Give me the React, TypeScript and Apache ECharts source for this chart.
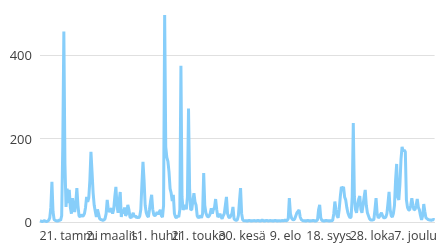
import React, { useEffect, useRef } from "react";
import * as echarts from "echarts";

const YEAR = 2023;
const MONTHS = ["tammi", "helmi", "maalis", "huhti", "touko", "kesä", "heinä", "elo", "syys", "loka", "marras", "joulu"];
const Y_TICKS = [0, 200, 400];
const LABEL_FIRST = 20;
const LABEL_STEP = 40;

// daily values, Jan 1 .. Dec 31
const V000 = [3, 2, 1, 2, 3, 2, 1, 2, 4, 10];
const V010 = [35, 96, 25, 6, 4, 3, 2, 3, 5, 4];
const V020 = [15, 180, 456, 140, 36, 80, 45, 77, 35, 20];
const V030 = [57, 35, 24, 45, 81, 40, 15, 12, 18, 14];
const V040 = [15, 20, 35, 60, 48, 58, 100, 168, 120, 70];
const V050 = [40, 25, 12, 30, 20, 8, 6, 5, 4, 5];
const V060 = [8, 20, 53, 30, 24, 29, 33, 20, 30, 60];
const V070 = [84, 40, 22, 50, 72, 12, 30, 20, 35, 15];
const V080 = [20, 41, 30, 12, 10, 15, 22, 12, 15, 10];
const V090 = [12, 10, 14, 30, 90, 144, 100, 40, 22, 15];
const V100 = [12, 30, 50, 65, 30, 17, 15, 18, 24, 18];
const V110 = [24, 29, 15, 12, 40, 496, 180, 155, 145, 120];
const V120 = [80, 69, 50, 65, 20, 12, 10, 15, 12, 30];
const V130 = [374, 60, 29, 35, 41, 30, 60, 272, 80, 29];
const V140 = [30, 50, 69, 48, 40, 15, 10, 12, 15, 10];
const V150 = [20, 117, 40, 22, 15, 12, 14, 20, 33, 20];
const V160 = [30, 35, 55, 30, 12, 15, 20, 12, 8, 15];
const V170 = [20, 40, 60, 20, 12, 10, 15, 20, 36, 8];
const V180 = [5, 4, 5, 15, 50, 81, 20, 5, 3, 3];
const V190 = [3, 2, 3, 4, 3, 2, 3, 3, 4, 2];
const V200 = [3, 4, 3, 2, 3, 5, 3, 2, 3, 4];
const V210 = [3, 2, 4, 3, 3, 2, 3, 4, 3, 2];
const V220 = [3, 3, 2, 4, 3, 3, 5, 3, 4, 8];
const V230 = [57, 20, 10, 6, 5, 8, 15, 22, 25, 29];
const V240 = [12, 6, 4, 3, 3, 2, 3, 4, 3, 2];
const V250 = [3, 3, 4, 3, 2, 3, 5, 30, 41, 10];
const V260 = [4, 3, 2, 3, 4, 3, 3, 2, 3, 3];
const V270 = [4, 20, 49, 30, 15, 10, 30, 60, 84, 80];
const V280 = [84, 60, 53, 35, 22, 15, 10, 12, 60, 237];
const V290 = [60, 30, 22, 40, 55, 62, 30, 22, 40, 60];
const V300 = [77, 40, 22, 15, 8, 5, 5, 5, 6, 30];
const V310 = [57, 20, 10, 12, 18, 22, 15, 10, 10, 12];
const V320 = [20, 45, 72, 30, 15, 12, 20, 40, 100, 139];
const V330 = [60, 53, 90, 150, 180, 170, 172, 168, 53, 35];
const V340 = [29, 29, 40, 57, 40, 29, 30, 40, 55, 35];
const V350 = [29, 15, 5, 15, 43, 25, 10, 8, 6, 5];
const V360 = [5, 4, 5, 6, 5];

const VALUES = [
  ...V000, ...V010, ...V020, ...V030, ...V040, ...V050, ...V060, ...V070, ...V080, ...V090,
  ...V100, ...V110, ...V120, ...V130, ...V140, ...V150, ...V160, ...V170, ...V180, ...V190,
  ...V200, ...V210, ...V220, ...V230, ...V240, ...V250, ...V260, ...V270, ...V280, ...V290,
  ...V300, ...V310, ...V320, ...V330, ...V340, ...V350, ...V360,
];

const CATEGORIES: string[] = VALUES.map((_, i) => {
  const d = new Date(Date.UTC(YEAR, 0, 1 + i));
  return `${d.getUTCDate()}. ${MONTHS[d.getUTCMonth()]}`;
});

const labelStyle = {
  color: "#404040",
  fontSize: 12.5,
  fontFamily: "Open Sans",
  margin: 7,
  padding: [0, 0, 0, 14],
  showMinLabel: true,
  showMaxLabel: true,
  hideOverlap: false,
};

function xAxisFor(parity: number, visibleLine: boolean) {
  return {
    type: "category",
    data: CATEGORIES,
    boundaryGap: false,
    position: "bottom",
    axisLine: { show: visibleLine, lineStyle: { color: "#e0e0e0" } },
    axisTick: { show: false },
    splitLine: { show: false },
    axisLabel: {
      ...labelStyle,
      interval: (i: number) =>
        i >= LABEL_FIRST &&
        (i - LABEL_FIRST) % LABEL_STEP === 0 &&
        ((i - LABEL_FIRST) / LABEL_STEP) % 2 === parity,
    },
  };
}

export default function App() {
  const ref = useRef<HTMLDivElement>(null);
  useEffect(() => {
    if (!ref.current) return;
    const chart = echarts.init(ref.current, undefined, { renderer: "svg" });
    chart.setOption({
      animation: false,
      grid: { left: 40, right: 0, top: 11.5, bottom: 27 },
      xAxis: [xAxisFor(0, true), xAxisFor(1, false)],
      yAxis: {
        type: "value",
        min: Y_TICKS[0],
        max: 600,
        interval: Y_TICKS[1] - Y_TICKS[0],
        axisLine: { show: false },
        axisTick: { show: false },
        splitLine: { lineStyle: { color: "#e0e0e0" } },
        axisLabel: {
          color: "#404040",
          fontSize: 13,
          fontFamily: "Open Sans",
          margin: 8,
          showMaxLabel: false,
        },
      },
      series: [
        {
          type: "line",
          data: VALUES,
          xAxisIndex: 0,
          showSymbol: false,
          symbol: "none",
          lineStyle: { color: "#87cefa", width: 3 },
        },
      ],
    });
    return () => chart.dispose();
  }, []);
  return <div ref={ref} style={{ position: "fixed", left: 0, top: -40, width: 440, height: 289 }} />;
}
